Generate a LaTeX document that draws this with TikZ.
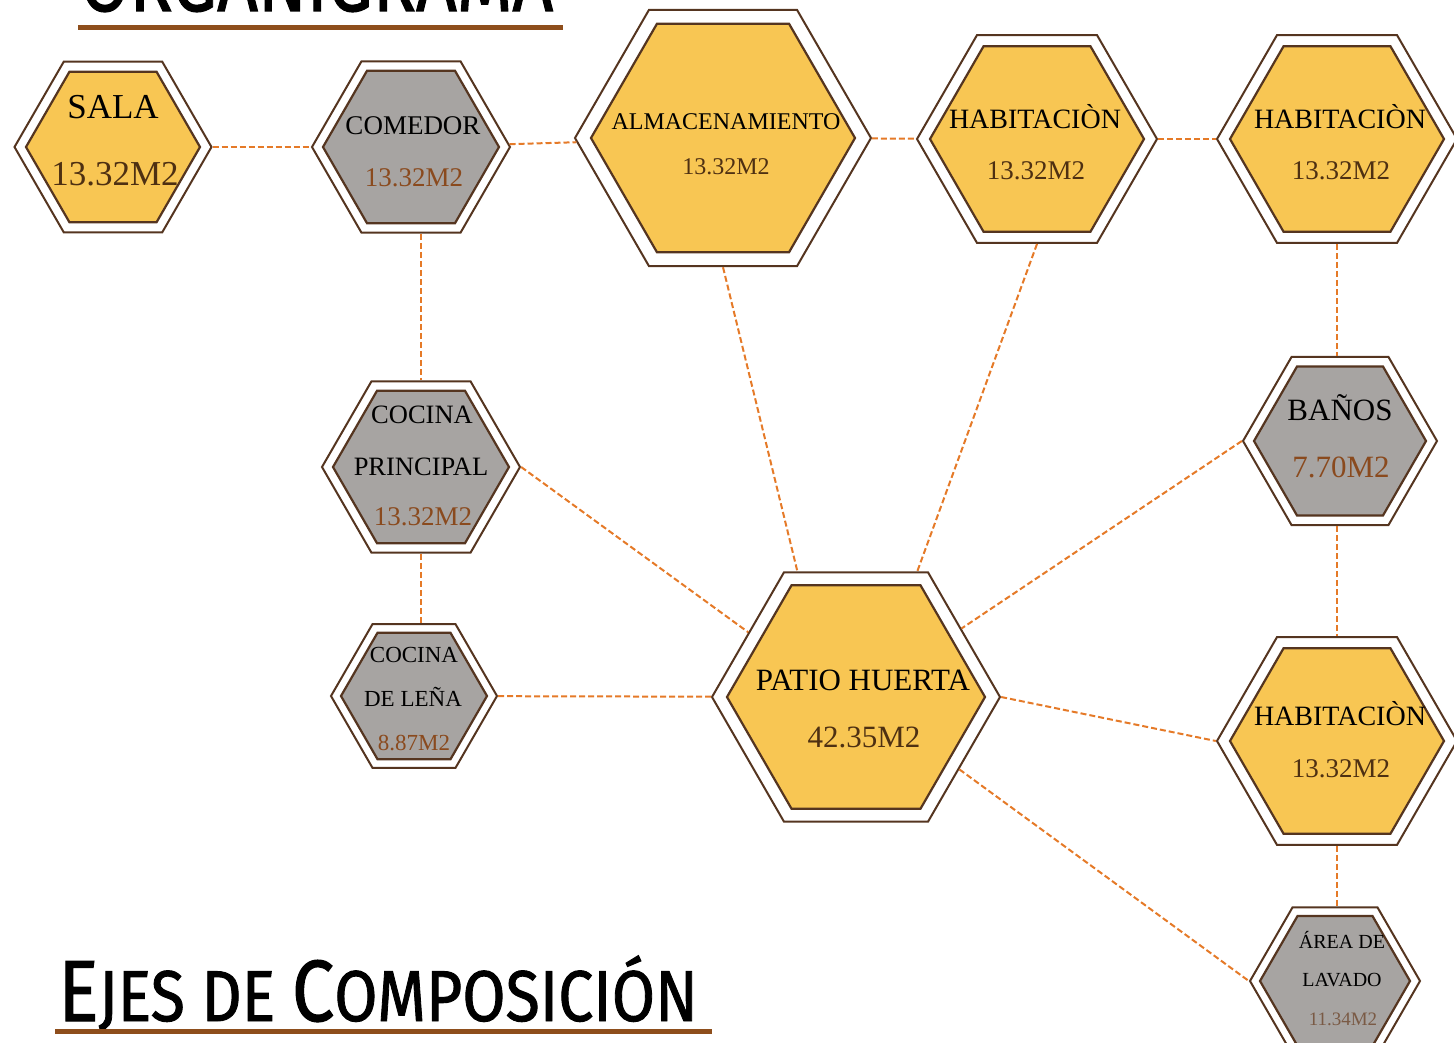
\documentclass[tikz,border=0pt]{standalone}
\usepackage{fontspec}
\usepackage{graphicx}
\setmainfont{Liberation Serif}
\newfontfamily\titlefont{Fira Sans}[FakeBold=1.3]
\usetikzlibrary{shapes.geometric}

\definecolor{hexyellow}{HTML}{F8C653}
\definecolor{hexgray}{HTML}{A7A4A2}
\definecolor{hexline}{HTML}{553520}
\definecolor{dashorange}{HTML}{E57A28}
\definecolor{titlebrown}{HTML}{8E4E1C}
\definecolor{numbrown}{HTML}{4E3012}
\definecolor{numrust}{HTML}{8A4A1E}
\definecolor{numgray}{HTML}{7A5A45}

\tikzset{
  hexbase/.style={regular polygon, regular polygon sides=6, inner sep=0pt, draw=hexline},
  outerhex/.style={hexbase, line width=2pt, fill=white, minimum size=#1},
  yelhex/.style={hexbase, line width=2.2pt, fill=hexyellow, minimum size=#1},
  grayhex/.style={hexbase, line width=2.2pt, fill=hexgray, minimum size=#1},
  link/.style={draw=dashorange, line width=2pt, dash pattern=on 6pt off 3pt},
  lbl/.style={anchor=base, inner sep=0pt, text=black, font=\fontsize{#1}{#1}\selectfont},
  numy/.style={lbl=#1, text=numbrown},
  numg/.style={lbl=#1, text=numrust},
  titleline/.style={draw=titlebrown, line width=5pt},
}

\begin{document}
\begin{tikzpicture}[x=1pt, y=-1pt]
\useasboundingbox (0,0) rectangle (1454,1043);

% titles
\node[anchor=base west, inner sep=0pt] (titletop) at (80,11)
  {\titlefont\fontsize{87}{87}\selectfont\scalebox{0.82}[1]{ORGANIGRAMA}};
\draw[titleline] (78,28) -- (563,28);
\node[anchor=base west, inner sep=0pt] (titlebot) at (58,1021)
  {\titlefont\scalebox{0.87}[1]{\fontsize{87}{87}\selectfont E\fontsize{72}{72}\selectfont JES DE \fontsize{87}{87}\selectfont C\fontsize{72}{72}\selectfont OMPOSICIÓN}};
\draw[titleline] (55,1031) -- (712,1031);

% hexagons
\node[outerhex=197] (sala) at (113,147) {};
\node[yelhex=174] (salain) at (113,147) {};
\node[outerhex=198] (comedor) at (411,147) {};
\node[grayhex=176] (comedorin) at (411,147) {};
\node[outerhex=296] (alm) at (723,138) {};
\node[yelhex=264] (almin) at (723,138) {};
\node[outerhex=240] (hab1) at (1037,139) {};
\node[yelhex=214] (hab1in) at (1037,139) {};
\node[outerhex=240] (hab2) at (1337,139) {};
\node[yelhex=214] (hab2in) at (1337,139) {};
\node[outerhex=198] (cocinap) at (421,467) {};
\node[grayhex=176] (cocinapin) at (421,467) {};
\node[outerhex=166] (lena) at (414,696) {};
\node[grayhex=146] (lenain) at (414,696) {};
\node[outerhex=288] (patio) at (856,697) {};
\node[yelhex=258] (patioin) at (856,697) {};
\node[outerhex=194] (banos) at (1340,441) {};
\node[grayhex=172] (banosin) at (1340,441) {};
\node[outerhex=240] (hab3) at (1337,741) {};
\node[yelhex=214] (hab3in) at (1337,741) {};
\node[outerhex=170] (lavado) at (1335,981) {};
\node[grayhex=150] (lavadoin) at (1335,981) {};

% connectors
\draw[link] (sala) -- (comedor);
\draw[link] (comedor) -- (alm);
\draw[link] (alm) -- (hab1);
\draw[link] (hab1) -- (hab2);
\draw[link] (comedor.south -| cocinap) -- (cocinap);
\draw[link] (cocinap) -- (cocinap |- lena.north);
\draw[link] (lena) -- (patio);
\draw[link] (cocinap.east) -- (patio.149);
\draw[link] (alm.south) -- (patio.115);
\draw[link] (hab1.south) -- (patio.64);
\draw[link] (hab2) -- (hab2 |- banos.north);
\draw[link] (banos.west) -- (patio.33);
\draw[link] (hab3 |- banos.south) -- (hab3);
\draw[link] (patio.east) -- (hab3.west);
\draw[link] (hab3) -- (hab3 |- lavado.north);
\draw[link] (patio.-35) -- (lavado.west);

% labels
\node[lbl=35] (salat) at (113,119) {SALA};
\node[numy=35] (salan) at (115,186) {13.32M2};
\node[lbl=27] (comedort) at (413,135) {COMEDOR};
\node[numg=27] (comedorn) at (414,187) {13.32M2};
\node[lbl=24] (almt) at (726,130) {ALMACENAMIENTO};
\node[numy=24] (almn) at (726,175) {13.32M2};
\node[lbl=28] (hab1t) at (1035,129) {HABITACIÒN};
\node[numy=27] (hab1n) at (1036,180) {13.32M2};
\node[lbl=28] (hab2t) at (1340,129) {HABITACIÒN};
\node[numy=27] (hab2n) at (1341,180) {13.32M2};
\node[lbl=26.5] (cocinapt1) at (422,423) {COCINA};
\node[lbl=26.5] (cocinapt2) at (421,475) {PRINCIPAL};
\node[numg=27] (cocinapn) at (423,525) {13.32M2};
\node[lbl=23] (lenat1) at (414,662) {COCINA};
\node[lbl=23] (lenat2) at (413,706) {DE LEÑA};
\node[numg=23] (lenan) at (414,750) {8.87M2};
\node[lbl=31] (patiot) at (863,690) {PATIO HUERTA};
\node[numy=31] (pation) at (864,747) {42.35M2};
\node[lbl=31] (banost) at (1340,420) {BAÑOS};
\node[numg=31] (banosn) at (1341,477) {7.70M2};
\node[lbl=28] (hab3t) at (1340,725) {HABITACIÒN};
\node[numy=27] (hab3n) at (1341,777) {13.32M2};
\node[lbl=20] (lavadot1) at (1342,948) {ÁREA DE};
\node[lbl=20] (lavadot2) at (1342,986) {LAVADO};
\node[lbl=19, text=numgray] (lavadon) at (1343,1025) {11.34M2};
\end{tikzpicture}
\end{document}
